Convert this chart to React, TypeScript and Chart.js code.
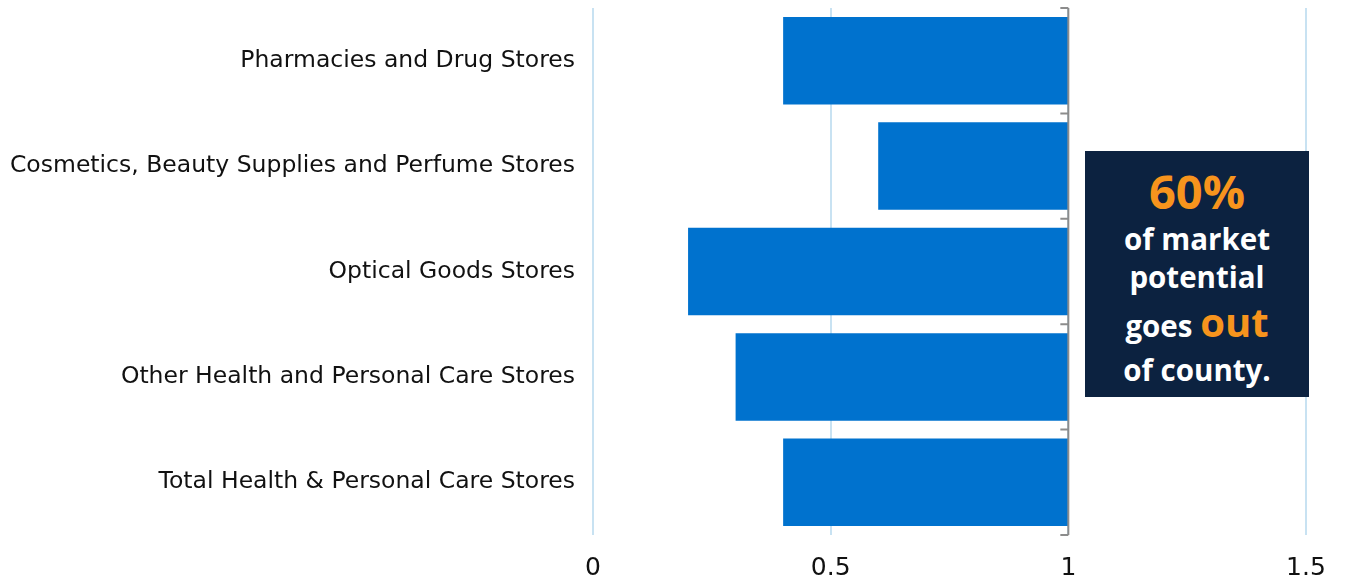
import React, { useEffect, useRef } from "react";
import { Chart, registerables } from "chart.js";

Chart.register(...registerables);

const categories = [
  "Pharmacies and Drug Stores",
  "Cosmetics, Beauty Supplies and Perfume Stores",
  "Optical Goods Stores",
  "Other Health and Personal Care Stores",
  "Total Health & Personal Care Stores",
];
const values = [0.4, 0.6, 0.2, 0.3, 0.4];
const baseline = 1;
const xTicks = [0, 0.5, 1, 1.5];
const xTickLabels = ["0", "0.5", "1", "1.5"];

const LABEL_FONT = "'DejaVu Sans', Tahoma, sans-serif";

const axisAtOnePlugin = {
  id: "axisAtOne",
  afterDatasetsDraw(chart: any) {
    const { ctx, chartArea, scales } = chart;
    const x = scales.x.getPixelForValue(baseline);
    const n = categories.length;
    ctx.save();
    ctx.strokeStyle = "#8c8c8c";
    ctx.lineWidth = 2;
    ctx.beginPath();
    ctx.moveTo(x, chartArea.top);
    ctx.lineTo(x, chartArea.bottom);
    for (let i = 0; i <= n; i++) {
      const y = chartArea.top + (i * (chartArea.bottom - chartArea.top)) / n;
      ctx.moveTo(x - 8, y);
      ctx.lineTo(x, y);
    }
    ctx.stroke();
    ctx.restore();
  },
};

export default function App() {
  const ref = useRef<HTMLCanvasElement>(null);
  useEffect(() => {
    if (!ref.current) return;
    const chart = new Chart(ref.current, {
      type: "bar",
      data: {
        labels: categories,
        datasets: [
          {
            data: values.map((v) => [v, baseline]) as any,
            backgroundColor: "#0072ce",
            borderWidth: 0,
            borderSkipped: false,
            barPercentage: 0.83,
            categoryPercentage: 1,
          },
        ],
      },
      options: {
        indexAxis: "y",
        responsive: false,
        animation: false,
        layout: { padding: { top: 8, right: 40, left: 0, bottom: 0 } },
        plugins: { legend: { display: false }, tooltip: { enabled: false } },
        scales: {
          x: {
            min: 0,
            max: 1.5,
            afterBuildTicks: (s: any) => {
              s.ticks = xTicks.map((v) => ({ value: v }));
            },
            grid: { color: "#c8e2f2", lineWidth: 2, drawTicks: false },
            border: { display: false },
            ticks: {
              padding: 18,
              color: "#111",
              font: { family: LABEL_FONT, size: 25 },
              callback: (_v: any, i: number) => xTickLabels[i],
            },
            afterFit: (s: any) => {
              s.height = 47;
              s.paddingLeft = 0;
              s.paddingRight = 0;
            },
          },
          y: {
            grid: { display: false },
            border: { display: false },
            ticks: {
              padding: 10,
              color: "#111",
              font: { family: LABEL_FONT, size: 23.5 },
            },
            afterFit: (s: any) => {
              s.width = 593;
              s.paddingTop = 0;
              s.paddingBottom = 0;
            },
          },
        },
      },
      plugins: [axisAtOnePlugin],
    });
    return () => chart.destroy();
  }, []);

  const boxFont = "'Open Sans', 'Noto Sans', sans-serif";
  return (
    <div style={{ position: "absolute", left: 0, top: 0, width: 1346, height: 582, background: "#fff" }}>
      <canvas ref={ref} width={1346} height={582} style={{ display: "block" }} />
      <div
        style={{
          position: "absolute",
          left: 1085,
          top: 151,
          width: 224,
          height: 246,
          background: "#0c2240",
          color: "#fff",
          fontFamily: boxFont,
          fontWeight: 700,
          textAlign: "center",
          boxSizing: "border-box",
          paddingTop: 12,
        }}
      >
        <div style={{ color: "#f7941d", fontSize: 47, lineHeight: "57px" }}>60%</div>
        <div style={{ fontSize: 29.5, lineHeight: "38px" }}>of market</div>
        <div style={{ fontSize: 29.5, lineHeight: "38px" }}>potential</div>
        <div style={{ fontSize: 29.5, lineHeight: "51px" }}>
          goes <span style={{ color: "#f7941d", fontSize: 40 }}>out</span>
        </div>
        <div style={{ fontSize: 29.5, lineHeight: "38px" }}>of county.</div>
      </div>
    </div>
  );
}
